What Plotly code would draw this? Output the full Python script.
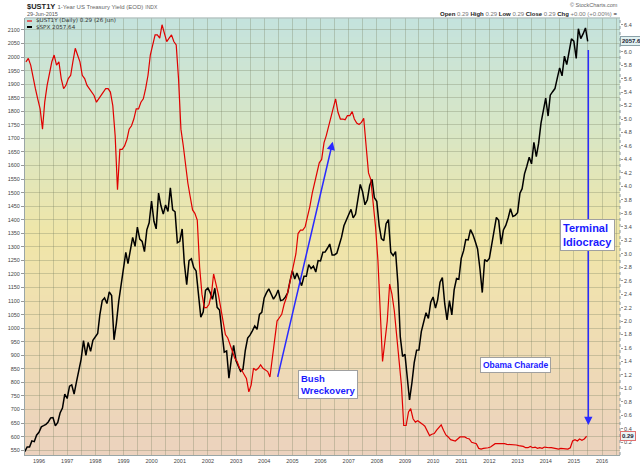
import plotly.graph_objects as go
import pandas as pd

# ---------------- data ----------------
spx_values = [
    544.75, 562.06, 561.88, 584.41, 581.50, 605.37, 615.93,
    636.02, 640.43, 645.50, 654.17, 669.12, 670.63, 639.95, 651.99, 687.31, 705.27, 757.02, 740.74,
    786.16, 790.82, 757.12, 801.34, 848.28, 885.14, 954.29, 899.47, 947.28, 914.62, 955.40, 970.43,
    980.28, 1049.34, 1101.75, 1111.75, 1090.82, 1133.84, 1120.67, 957.28, 1017.01, 1098.67, 1163.63, 1229.23,
    1279.64, 1238.33, 1286.37, 1335.18, 1301.84, 1372.71, 1328.72, 1320.41, 1282.71, 1362.93, 1388.91, 1469.25,
    1394.46, 1366.42, 1498.58, 1452.43, 1420.60, 1454.60, 1430.83, 1517.68, 1436.51, 1429.40, 1314.95, 1320.28,
    1366.01, 1239.94, 1160.33, 1249.46, 1255.82, 1224.38, 1211.23, 1133.58, 1040.94, 1059.78, 1139.45, 1148.08,
    1130.20, 1106.73, 1147.39, 1076.92, 1067.14, 989.82, 911.62, 916.07, 815.28, 885.76, 936.31, 879.82,
    855.70, 841.15, 848.18, 916.92, 963.59, 974.50, 990.31, 1008.01, 995.97, 1050.71, 1058.20, 1111.92,
    1131.13, 1144.94, 1126.21, 1107.30, 1120.68, 1140.84, 1101.72, 1104.24, 1114.58, 1130.20, 1173.82, 1211.92,
    1181.27, 1203.60, 1180.59, 1156.85, 1191.50, 1191.33, 1234.18, 1220.33, 1228.81, 1207.01, 1249.48, 1248.29,
    1280.08, 1280.66, 1294.83, 1310.61, 1270.09, 1270.20, 1276.66, 1303.82, 1335.85, 1377.94, 1400.63, 1418.30,
    1438.24, 1406.82, 1420.86, 1482.37, 1530.62, 1503.35, 1455.27, 1473.99, 1526.75, 1549.38, 1481.14, 1468.36,
    1378.55, 1330.63, 1322.70, 1385.59, 1400.38, 1280.00, 1267.38, 1282.83, 1166.36, 968.75, 896.24, 903.25,
    825.88, 735.09, 797.87, 872.81, 919.14, 919.32, 987.48, 1020.62, 1057.08, 1036.19, 1095.63, 1115.10,
    1073.87, 1104.49, 1169.43, 1186.69, 1089.41, 1030.71, 1101.60, 1049.33, 1141.20, 1183.26, 1180.55, 1257.64,
    1286.12, 1327.22, 1325.83, 1363.61, 1345.20, 1320.64, 1292.28, 1218.89, 1131.42, 1253.30, 1246.96, 1257.60,
    1312.41, 1365.68, 1408.47, 1397.91, 1310.33, 1362.16, 1379.32, 1406.58, 1440.67, 1412.16, 1416.18, 1426.19,
    1498.11, 1514.68, 1569.19, 1597.57, 1630.74, 1606.28, 1685.73, 1632.97, 1681.55, 1756.54, 1805.81, 1848.36,
    1782.59, 1859.45, 1872.34, 1883.95, 1923.57, 1960.23, 1930.67, 2003.37, 1972.29, 2018.05, 2067.56, 2058.90,
    1994.99, 2104.50, 2067.89, 2085.51, 2107.39, 2057.64,
]
spx_dates = list(pd.date_range("1995-06-30", "2015-05-31", freq="ME").strftime("%Y-%m-%d")) + ["2015-06-29"]

yield_values = [
    5.85, 5.90, 5.80, 5.60, 5.45, 5.30,
    5.15, 4.85, 5.25, 5.50, 5.70, 5.85, 5.95, 5.80, 5.85, 5.60, 5.45, 5.50,
    5.60, 5.65, 5.85, 6.05, 5.95, 5.85, 5.65, 5.60, 5.50, 5.45, 5.40, 5.35,
    5.25, 5.30, 5.35, 5.40, 5.45, 5.45, 5.40, 5.20, 4.75, 3.95, 4.55, 4.55,
    4.60, 4.70, 4.85, 4.90, 5.00, 5.15, 5.15, 5.25, 5.30, 5.45, 5.65, 5.95,
    6.10, 6.25, 6.25, 6.20, 6.40, 6.25, 6.15, 6.20, 6.25, 6.15, 6.10, 5.60,
    4.85, 4.60, 4.30, 4.05, 3.85, 3.65, 3.60, 3.50, 2.80, 2.40, 2.20, 2.20,
    2.25, 2.40, 2.70, 2.55, 2.40, 2.20, 2.00, 1.80, 1.75, 1.65, 1.55, 1.45,
    1.40, 1.30, 1.27, 1.20, 1.15, 0.95, 1.05, 1.30, 1.27, 1.30, 1.35, 1.30,
    1.27, 1.25, 1.17, 1.45, 1.75, 2.00, 2.05, 2.10, 2.25, 2.35, 2.50, 2.65,
    2.80, 3.00, 3.30, 3.35, 3.35, 3.40, 3.55, 3.70, 3.90, 4.05, 4.25, 4.35,
    4.40, 4.65, 4.75, 4.90, 5.05, 5.20, 5.30, 5.10, 5.00, 5.00, 4.99, 5.05,
    5.05, 5.11, 5.00, 4.94, 4.92, 4.95, 5.01, 4.60, 4.20, 4.10, 3.75, 3.40,
    2.90, 2.10, 1.40, 1.70, 2.00, 2.55, 2.40, 2.15, 1.80, 1.45, 1.05, 0.45,
    0.45, 0.65, 0.70, 0.55, 0.50, 0.52, 0.50, 0.47, 0.44, 0.38, 0.30, 0.32,
    0.33, 0.38, 0.42, 0.46, 0.38, 0.31, 0.28, 0.24, 0.23, 0.22, 0.25, 0.28,
    0.28, 0.28, 0.26, 0.25, 0.20, 0.19, 0.18, 0.11, 0.10, 0.11, 0.11, 0.12,
    0.13, 0.16, 0.18, 0.18, 0.18, 0.19, 0.18, 0.17, 0.17, 0.17, 0.17, 0.16,
    0.15, 0.15, 0.14, 0.12, 0.12, 0.14, 0.12, 0.13, 0.11, 0.12, 0.11, 0.13,
    0.12, 0.12, 0.12, 0.11, 0.10, 0.10, 0.11, 0.11, 0.11, 0.10, 0.12, 0.22,
    0.24, 0.22, 0.25, 0.23, 0.25, 0.29,
]
yield_dates = list((pd.date_range("1995-07-01", periods=len(yield_values), freq="MS")
                    + pd.Timedelta(days=14)).strftime("%Y-%m-%d"))

left_ticks = list(range(550, 2101, 50))
right_ticks = [round(0.2 * i, 1) for i in range(1, 33)]

# ---------------- figure ----------------
W, H = 640, 465
ML, MR, MT, MB = 25, 20, 18, 10
PW, PH = W - ML - MR, H - MT - MB


def px(x):
    return (x - ML) / PW


def py(y):
    return (H - MB - y) / PH


fig = go.Figure()
fig.add_trace(go.Scatter(x=spx_dates, y=spx_values, mode="lines", yaxis="y",
                         line=dict(color="#000000", width=1.5), showlegend=False))
fig.add_trace(go.Scatter(x=yield_dates, y=yield_values, mode="lines", yaxis="y2",
                         line=dict(color="#e00000", width=1.2), showlegend=False))

# gradient background bands
stops = [(0.0, (196, 227, 222)), (0.25, (215, 230, 198)), (0.5, (240, 230, 168)),
         (0.65, (240, 224, 176)), (1.0, (236, 210, 190))]


def col(t):
    for (t0, c0), (t1, c1) in zip(stops[:-1], stops[1:]):
        if t0 <= t <= t1:
            f = (t - t0) / (t1 - t0)
            return "rgb(%d,%d,%d)" % tuple(round(a + (b - a) * f) for a, b in zip(c0, c1))
    return "rgb(%d,%d,%d)" % stops[-1][1]


shapes = []
N = 90
for i in range(N):
    t = (i + 0.5) / N
    shapes.append(dict(type="rect", xref="paper", yref="paper", x0=0, x1=1,
                       y0=1 - (i + 1) / N - 0.001, y1=1 - i / N + 0.001,
                       fillcolor=col(t), line=dict(width=0), layer="below"))
shapes.append(dict(type="line", xref="paper", yref="paper", x0=1, x1=1, y0=0, y1=1,
                   line=dict(color="#8899a0", width=1, dash="dot")))
shapes.append(dict(type="line", xref="paper", yref="paper", x0=0, x1=1, y0=1, y1=1,
                   line=dict(color="#b0b8b8", width=1)))
shapes.append(dict(type="line", xref="paper", yref="paper", x0=px(27), x1=px(32), y0=py(21), y1=py(21),
                   line=dict(color="#e06060", width=2)))
shapes.append(dict(type="line", xref="paper", yref="paper", x0=px(27), x1=px(32), y0=py(27), y1=py(27),
                   line=dict(color="#000000", width=2)))

grid = "rgba(120,130,100,0.33)"
blue = "#1a1aff"
ff = "Liberation Sans, Arial"

annotations = [
    dict(x="2006-06-08", y=1688, ax="2004-06-19", ay=815, xref="x", yref="y", axref="x", ayref="y",
         text="", showarrow=True, arrowhead=2, arrowsize=1.1, arrowwidth=1.5, arrowcolor="#2a2aff"),
    dict(x="2015-07-07", y=643, ax="2015-07-07", ay=2032, xref="x", yref="y", axref="x", ayref="y",
         text="", showarrow=True, arrowhead=2, arrowsize=1.1, arrowwidth=1.5, arrowcolor="#2a2aff"),
    dict(x="2005-03-15", y=846, xref="x", yref="y", xanchor="left", yanchor="top", align="left",
         text="<b>Bush<br>Wreckovery</b>", showarrow=False,
         font=dict(family=ff, size=9.5, color=blue),
         bgcolor="white", bordercolor="#a0a0a0", borderwidth=1, borderpad=2),
    dict(x="2011-09-01", y=894, xref="x", yref="y", xanchor="left", yanchor="top", align="left",
         text="<b>Obama Charade</b>", showarrow=False,
         font=dict(family=ff, size=8.5, color=blue),
         bgcolor="white", bordercolor="#a0a0a0", borderwidth=1, borderpad=2),
    dict(x="2014-07-04", y=1402, xref="x", yref="y", xanchor="left", yanchor="top", align="left",
         text="<b>Terminal<br>Idiocracy</b>", showarrow=False,
         font=dict(family=ff, size=11, color=blue),
         bgcolor="white", bordercolor="#a0a0a0", borderwidth=1, borderpad=2),
    dict(x=1.0, y=2057.64, xref="paper", yref="y", xanchor="left", yanchor="middle",
         text="<b>2057.6</b>", showarrow=False, font=dict(family=ff, size=6, color="#223"),
         bgcolor="#e2f2f2", bordercolor="#8aa0a8", borderwidth=1, borderpad=1),
    dict(x=1.0, y=0.29, xref="paper", yref="y2", xanchor="left", yanchor="middle",
         text="<b>0.29</b>", showarrow=False, font=dict(family=ff, size=6, color="#223"),
         bgcolor="#eaf4f4", bordercolor="#e07070", borderwidth=1, borderpad=1),
    dict(x=0, y=py(6), xref="paper", yref="paper", xanchor="left", yanchor="middle", showarrow=False,
         text="<b>$UST1Y</b> <span style='font-size:6px;color:#666'>1-Year US Treasury Yield (EOD)</span>"
              " <span style='font-size:5px;color:#666'>INDX</span>",
         font=dict(family=ff, size=7.5, color="#222")),
    dict(x=0, y=py(14), xref="paper", yref="paper", xanchor="left", yanchor="middle", showarrow=False,
         text="29-Jun-2015", font=dict(family=ff, size=5.5, color="#555")),
    dict(x=1, y=py(5), xref="paper", yref="paper", xanchor="right", yanchor="middle", showarrow=False,
         text="© StockCharts.com", font=dict(family=ff, size=5.5, color="#666")),
    dict(x=1, y=py(14), xref="paper", yref="paper", xanchor="right", yanchor="middle", showarrow=False,
         text="<b>Open</b> <span style='color:#777'>0.29</span> <b>High</b> <span style='color:#777'>0.29</span> "
              "<b>Low</b> <span style='color:#777'>0.29</span> <b>Close</b> <span style='color:#777'>0.29</span> "
              "<b>Chg</b> <span style='color:#777'>+0.00 (+0.00%)</span> =",
         font=dict(family=ff, size=6, color="#222")),
    dict(x=px(34), y=py(21), xref="paper", yref="paper", xanchor="left", yanchor="middle", showarrow=False,
         text="$UST1Y (Daily) 0.29 (26 Jun)", font=dict(family="DejaVu Sans", size=5.6, color="#333")),
    dict(x=px(34), y=py(27), xref="paper", yref="paper", xanchor="left", yanchor="middle", showarrow=False,
         text="$SPX 2057.64", font=dict(family="DejaVu Sans", size=5.6, color="#333")),
]

tickfont = dict(family=ff, size=5.5, color="#444")

fig.update_layout(
    template="none",
    width=W, height=H, autosize=False,
    margin=dict(l=ML, r=MR, t=MT, b=MB, pad=0),
    paper_bgcolor="white", plot_bgcolor="rgba(0,0,0,0)",
    shapes=shapes, annotations=annotations, showlegend=False,
    xaxis=dict(type="date", range=["1995-07-03", "2016-08-21"], automargin=False,
               tick0="1996-01-01", dtick="M12", tickformat="%Y",
               showgrid=True, gridcolor=grid, gridwidth=1,
               minor=dict(dtick="M6", tick0="1995-07-01", showgrid=True, gridcolor=grid, gridwidth=1),
               ticks="", tickfont=tickfont, showline=True, linecolor="#9aa6a6", linewidth=1,
               zeroline=False, fixedrange=True),
    yaxis=dict(range=[532.3, 2144.2], tickmode="array", tickvals=left_ticks, automargin=False,
               ticktext=[str(v) for v in left_ticks],
               showgrid=True, gridcolor=grid, gridwidth=1,
               ticks="outside", ticklen=3, tickcolor="#999", tickfont=tickfont,
               showline=True, linecolor="#9aa6a6", linewidth=1, zeroline=False),
    yaxis2=dict(range=[0.0119, 6.50], overlaying="y", side="right", tickmode="array", automargin=False,
                tickvals=right_ticks, ticktext=["%.1f" % v for v in right_ticks],
                showgrid=False, ticks="outside", ticklen=2, tickcolor="#999", tickfont=tickfont,
                showline=False, zeroline=False),
)

fig.write_html("out.html", config={"displayModeBar": False, "staticPlot": True},
               post_script="document.body.style.margin='0';document.body.style.overflow='hidden';")
